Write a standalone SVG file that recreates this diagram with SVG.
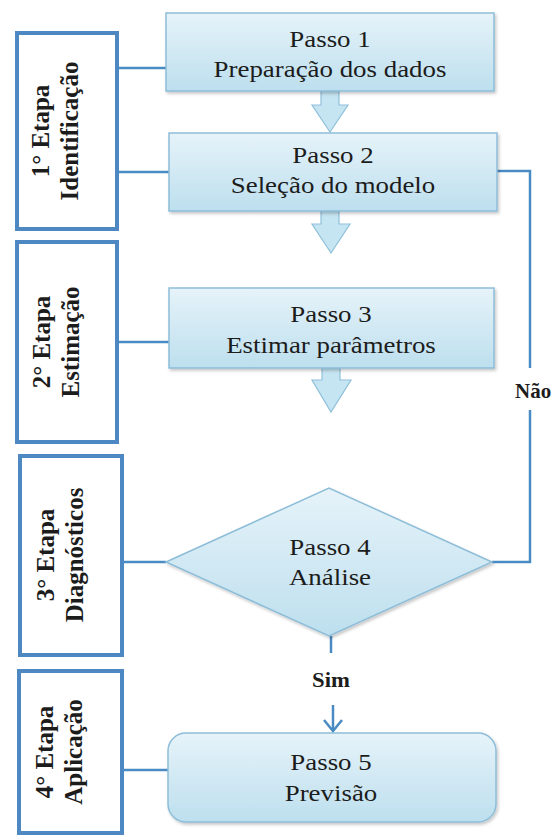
<svg xmlns="http://www.w3.org/2000/svg" width="555" height="837" viewBox="0 0 555 837">
<style>
.stage{fill:#ffffff;stroke:#4d88c2;stroke-width:4}
.box{fill:url(#g);stroke:#8dbdd8;stroke-width:1.5;filter:url(#sh)}
.blk{fill:#c6e5f2;stroke:#8fc0da;stroke-width:1.2}
.con{fill:none;stroke:#4a8bc4;stroke-width:2.5}
.main{font-family:"Liberation Serif","Times New Roman",serif;font-size:24px;fill:#1c1c1c;text-anchor:middle}
.side{font-family:"Liberation Serif","Times New Roman",serif;font-size:25px;font-weight:bold;fill:#1c1c1c;text-anchor:middle}
.lab{font-family:"Liberation Serif","Times New Roman",serif;font-size:21px;font-weight:bold;fill:#1c1c1c}
</style>
<defs>
<linearGradient id="g" x1="0" y1="0" x2="0" y2="1">
<stop offset="0" stop-color="#e6f3f9"/>
<stop offset="1" stop-color="#bddfee"/>
</linearGradient>
<filter id="sh" x="-5%" y="-10%" width="115%" height="130%">
<feDropShadow dx="1.5" dy="2" stdDeviation="1.5" flood-color="#000" flood-opacity="0.22"/>
</filter>
</defs>

<g id="connectors">
<line class="con" x1="117" y1="68" x2="166" y2="68"/>
<line class="con" x1="117" y1="172" x2="169" y2="172"/>
<line class="con" x1="117" y1="342" x2="169" y2="342"/>
<line class="con" x1="122" y1="562" x2="166" y2="562"/>
<line class="con" x1="122" y1="770" x2="168" y2="770"/>
<polyline class="con" points="492,562 530,562 530,410"/>
<polyline class="con" points="530,368 530,171 473,171"/>
<polyline fill="none" stroke="#45a8cf" stroke-width="2.5" points="486,162 473,171 486,180"/>
<line class="con" x1="331" y1="636" x2="331" y2="653"/>
<line class="con" x1="333" y1="705" x2="333" y2="731"/>
<polyline class="con" points="324,720 333,731 342,720"/>
<text class="lab" x="515" y="398">Não</text>
<text class="lab" x="331" y="687" text-anchor="middle" transform="translate(331,0) scale(1.08,1) translate(-331,0)">Sim</text>
</g>

<g id="arrow1"><polygon class="blk" points="321,91 339,91 339,105 348,105 330,132 312,105 321,105"/></g>
<g id="arrow2"><polygon class="blk" points="321,211 339,211 339,224 350,224 331,253 312,224 321,224"/></g>
<g id="arrow3"><polygon class="blk" points="322,368 340,368 340,380 351,380 331,412 312,380 322,380"/></g>

<g id="stage1">
<rect class="stage" x="17" y="33" width="100" height="196"/>
<text class="side" transform="translate(49,131) rotate(-90)">1° Etapa</text>
<text class="side" transform="translate(78,131) rotate(-90)">Identificação</text>
</g>
<g id="stage2">
<rect class="stage" x="17" y="242" width="100" height="200"/>
<text class="side" transform="translate(50,342) rotate(-90)">2° Etapa</text>
<text class="side" transform="translate(79,342) rotate(-90)">Estimação</text>
</g>
<g id="stage3">
<rect class="stage" x="20" y="456" width="102" height="199"/>
<text class="side" transform="translate(54,555) rotate(-90)">3° Etapa</text>
<text class="side" transform="translate(83,555) rotate(-90)">Diagnósticos</text>
</g>
<g id="stage4">
<rect class="stage" x="19" y="671" width="103" height="162"/>
<text class="side" transform="translate(53,752) rotate(-90)">4° Etapa</text>
<text class="side" transform="translate(82,752) rotate(-90)">Aplicação</text>
</g>

<g id="passo1">
<rect class="box" x="166" y="13" width="328" height="78"/>
<g transform="translate(330,0) scale(1.12,1)">
<text class="main" x="0" y="47">Passo 1</text>
<text class="main" x="0" y="77">Preparação dos dados</text>
</g>
</g>
<g id="passo2">
<rect class="box" x="169" y="133" width="328" height="78"/>
<g transform="translate(333,0) scale(1.12,1)">
<text class="main" x="0" y="163">Passo 2</text>
<text class="main" x="0" y="193">Seleção do modelo</text>
</g>
</g>
<g id="passo3">
<rect class="box" x="169" y="288" width="325" height="80"/>
<g transform="translate(331,0) scale(1.12,1)">
<text class="main" x="0" y="322">Passo 3</text>
<text class="main" x="0" y="353">Estimar parâmetros</text>
</g>
</g>
<g id="passo4">
<polygon class="box" points="166,562 329,488 492,562 329,636"/>
<g transform="translate(330,0) scale(1.12,1)">
<text class="main" x="0" y="555">Passo 4</text>
<text class="main" x="0" y="585">Análise</text>
</g>
</g>
<g id="passo5">
<rect class="box" x="168" y="733" width="328" height="89" rx="18"/>
<g transform="translate(331,0) scale(1.12,1)">
<text class="main" x="0" y="770">Passo 5</text>
<text class="main" x="0" y="801">Previsão</text>
</g>
</g>
</svg>
